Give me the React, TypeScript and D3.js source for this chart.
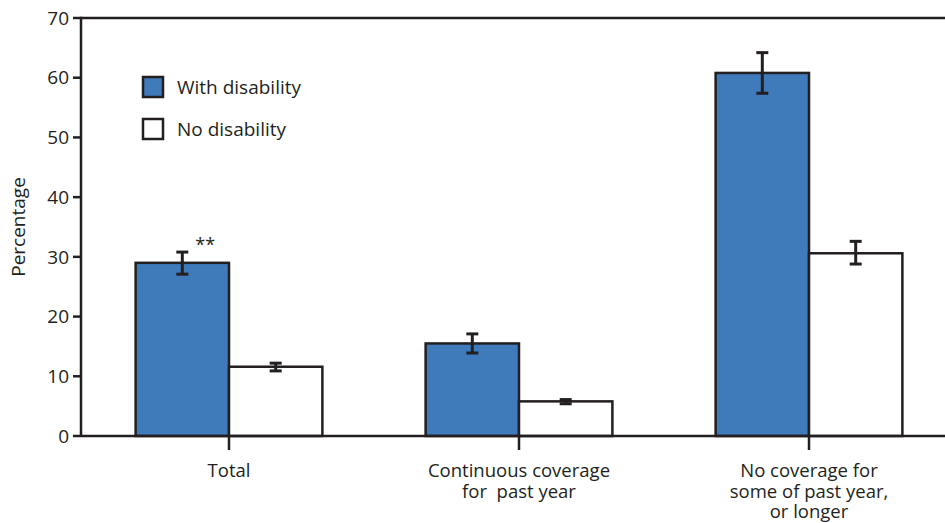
import React from "react";
import * as d3 from "d3";

const categories = ["Total", "Continuous coverage\nfor  past year", "No coverage for\nsome of past year,\nor longer"];
const seriesNames = ["With disability", "No disability"];
const withDisability = [29.0, 15.5, 60.8];
const withLow = [27.1, 13.9, 57.4];
const withHigh = [30.8, 17.1, 64.2];
const noDisability = [11.6, 5.8, 30.6];
const noLow = [10.9, 5.4, 28.8];
const noHigh = [12.2, 6.1, 32.6];
const yTicks = [0, 10, 20, 30, 40, 50, 60, 70];
const annotations = ["**", "", ""];

const BLUE = "#3f7aba";
const INK = "#231f20";
const FONT = "'Open Sans', 'Noto Sans', sans-serif";

export default function App() {
  const W = 945, H = 523;
  const left = 81, top = 18, bottom = 436;
  const y = d3.scaleLinear().domain([0, 70]).range([bottom, top]);
  const x = d3.scaleBand<string>().domain(categories).range([84, 954]).padding(0);
  const bw = x.bandwidth() * 0.322;
  const series = [
    { name: seriesNames[0], vals: withDisability, lo: withLow, hi: withHigh, fill: BLUE, off: -1 },
    { name: seriesNames[1], vals: noDisability, lo: noLow, hi: noHigh, fill: "#ffffff", off: 0 },
  ];
  return (
    <svg width={W} height={H} style={{ position: "absolute", left: 0, top: 0, background: "#fff" }} fontFamily={FONT}>
      <line x1={left} x2={W} y1={y(70)} y2={y(70)} stroke={INK} strokeWidth={2.5} />
      <line x1={left} x2={left} y1={y(70) - 1.25} y2={bottom} stroke={INK} strokeWidth={2.5} />
      {yTicks.map((t) => (
        <g key={t}>
          <line x1={left - 8} x2={left} y1={y(t)} y2={y(t)} stroke={INK} strokeWidth={2.5} />
          <text x={left - 12} y={y(t)} dy="0.35em" textAnchor="end" fontSize={19} fill={INK}>{t}</text>
        </g>
      ))}
      <text transform={`translate(25,${(top + bottom) / 2}) rotate(-90)`} textAnchor="middle" fontSize={19} fill={INK}>Percentage</text>
      {series.map((s) =>
        categories.map((c, i) => {
          const cx = (x(c) as number) + x.bandwidth() / 2;
          const bx = cx + s.off * bw;
          const mid = bx + bw / 2;
          return (
            <g key={s.name + i}>
              <rect x={bx} y={y(s.vals[i])} width={bw} height={bottom - y(s.vals[i])} fill={s.fill} stroke={INK} strokeWidth={2.5} />
              <line x1={mid} x2={mid} y1={y(s.hi[i])} y2={y(s.lo[i])} stroke={INK} strokeWidth={3} />
              <line x1={mid - 6} x2={mid + 6} y1={y(s.hi[i])} y2={y(s.hi[i])} stroke={INK} strokeWidth={3} />
              <line x1={mid - 6} x2={mid + 6} y1={y(s.lo[i])} y2={y(s.lo[i])} stroke={INK} strokeWidth={3} />
            </g>
          );
        })
      )}
      {annotations.map((a, i) =>
        a ? (
          <text key={"an" + i} x={(x(categories[i]) as number) + x.bandwidth() / 2 - bw / 2 + 13} y={y(withHigh[i]) - 1} fontSize={18} fill={INK}>{a}</text>
        ) : null
      )}
      <line x1={left} x2={W} y1={bottom} y2={bottom} stroke={INK} strokeWidth={2.5} />
      {categories.map((c, i) => {
        const cx = (x(c) as number) + x.bandwidth() / 2;
        return (
          <g key={"xl" + i}>
            <line x1={cx} x2={cx} y1={bottom} y2={bottom + 14} stroke={INK} strokeWidth={2.5} />
            <text x={cx} y={477} textAnchor="middle" fontSize={18.5} fill={INK} style={{ whiteSpace: "pre" }}>
              {c.split("\n").map((ln, j) => (
                <tspan key={j} x={cx} dy={j === 0 ? 0 : 20.5}>{ln}</tspan>
              ))}
            </text>
          </g>
        );
      })}
      {series.map((s, i) => (
        <g key={"lg" + i}>
          <rect x={143} y={77 + i * 42} width={20} height={20} fill={s.fill} stroke={INK} strokeWidth={2.5} />
          <text x={177} y={87 + i * 42} dy="0.35em" fontSize={19} fill={INK}>{s.name}</text>
        </g>
      ))}
    </svg>
  );
}
